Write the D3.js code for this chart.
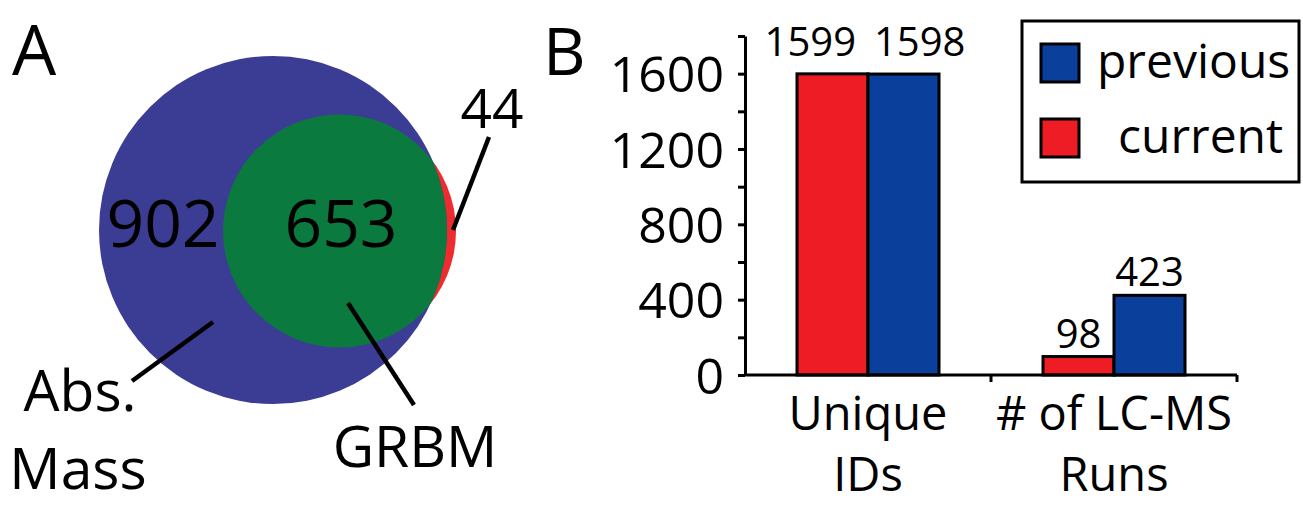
<!DOCTYPE html>
<html>
<head>
<meta charset="utf-8">
<script src="https://cdn.jsdelivr.net/npm/d3@7"></script>
<style>
  body { margin: 0; background: #fff; }
  text { font-family: "Open Sans", sans-serif; fill: #000; }
</style>
</head>
<body>
<div id="chart"></div>
<script>
// Venn counts (panel A)
const vennSets = ["Abs. Mass", "GRBM"];
const vennOnlyAbs = 902;
const vennBoth = 653;
const vennOnlyGrbm = 44;

// bar data (panel B)
const categories = [["Unique", "IDs"], ["# of LC-MS", "Runs"]];
const series = ["current", "previous"];
const currentValues = [1599, 98];
const previousValues = [1598, 423];
const yTicks = [0, 200, 400, 600, 800, 1000, 1200, 1400, 1600, 1800];
const yLabels = [0, 400, 800, 1200, 1600];

const width = 1303, height = 506;
const colors = {current: "#ee1c24", previous: "#0a3f9c"};

const svg = d3.select("#chart").append("svg").attr("width", width).attr("height", height);

// ---------- panel A ----------
svg.append("text").attr("x", 12).attr("y", 75).attr("font-size", 70).text("A");

// circle areas follow the set sizes
const rScale = d3.scaleSqrt().domain([0, vennOnlyAbs + vennBoth]).range([0, 174]);
const rAbs = rScale(vennOnlyAbs + vennBoth);
const rGrbm = rScale(vennBoth + vennOnlyGrbm);
const cy = 230;
const cxAbs = 99 + rAbs;
const cxGrbm = 456 - rGrbm;

const defs = svg.append("defs");
defs.append("clipPath").attr("id", "absClip")
  .append("circle").attr("cx", cxAbs).attr("cy", cy).attr("r", rAbs);

const venn = svg.append("g");
venn.append("circle").attr("cx", cxGrbm).attr("cy", cy + 1).attr("r", rGrbm).attr("fill", "#ee2b2e");
venn.append("circle").attr("cx", cxAbs).attr("cy", cy).attr("r", rAbs).attr("fill", "#3b3d94");
venn.append("circle").attr("cx", cxGrbm).attr("cy", cy + 1).attr("r", rGrbm)
  .attr("fill", "#0a7a3e").attr("clip-path", "url(#absClip)");

venn.append("text").attr("x", 163).attr("y", 247).attr("font-size", 66).attr("text-anchor", "middle").text(vennOnlyAbs);
venn.append("text").attr("x", 341).attr("y", 247).attr("font-size", 66).attr("text-anchor", "middle").text(vennBoth);
venn.append("text").attr("x", 492).attr("y", 128).attr("font-size", 55).attr("text-anchor", "middle").text(vennOnlyGrbm);

// pointer lines
const pointers = [
  [[489, 137], [453, 230]],
  [[213, 322], [132, 381]],
  [[348, 303], [414, 405]]
];
venn.selectAll("line.ptr").data(pointers).join("line")
  .attr("class", "ptr")
  .attr("x1", d => d[0][0]).attr("y1", d => d[0][1])
  .attr("x2", d => d[1][0]).attr("y2", d => d[1][1])
  .attr("stroke", "#000").attr("stroke-width", 4.5);

const absLbl = venn.append("text").attr("font-size", 57).attr("text-anchor", "middle");
absLbl.append("tspan").attr("x", 80).attr("y", 411).text("Abs.");
absLbl.append("tspan").attr("x", 78).attr("y", 489).text("Mass");
venn.append("text").attr("x", 415).attr("y", 467).attr("font-size", 57).attr("text-anchor", "middle").text(vennSets[1]);

// ---------- panel B ----------
svg.append("text").attr("x", 543).attr("y", 75).attr("font-size", 66).text("B");

const x0 = d3.scaleBand().domain(d3.range(categories.length)).range([745, 1237]);
const x1 = d3.scaleBand().domain(series).range([52, 194]);
const y = d3.scaleLinear().domain([0, 1800]).range([375, 36]);

// y axis
const yAxis = d3.axisLeft(y).tickValues(yTicks).tickSize(7).tickSizeOuter(0).tickPadding(14)
  .tickFormat(d => yLabels.includes(d) ? d : "");
const yG = svg.append("g").attr("transform", "translate(745,0)").call(yAxis);
yG.select(".domain").attr("stroke-width", 3);
yG.selectAll(".tick line").attr("stroke-width", 3);
yG.selectAll(".tick text").attr("font-size", 50).attr("font-family", "Open Sans").attr("dy", "0.36em");

// bars
const rows = categories.map((c, i) => ({i, current: currentValues[i], previous: previousValues[i]}));
const grp = svg.append("g").selectAll("g").data(rows).join("g")
  .attr("transform", d => `translate(${x0(d.i)},0)`);
grp.selectAll("rect").data(d => series.map(s => ({s, v: d[s]}))).join("rect")
  .attr("x", d => x1(d.s)).attr("y", d => y(d.v))
  .attr("width", x1.bandwidth()).attr("height", d => y(0) - y(d.v))
  .attr("fill", d => colors[d.s]).attr("stroke", "#000").attr("stroke-width", 3);
grp.each(function() {
  const labels = d3.select(this).selectAll("text").data(d => series.map(s => ({s, v: d[s]}))).join("text")
    .attr("x", d => x1(d.s) + x1.bandwidth() / 2).attr("y", d => y(d.v) - 9)
    .attr("text-anchor", "middle").attr("font-size", 40).text(d => d.v);
  // spread the two value labels apart if they would run into each other
  const nodes = labels.nodes();
  const w = nodes.map(n => n.getComputedTextLength());
  if ((w[0] + w[1]) / 2 + 4 > x1.step()) {
    const need = (w[0] + w[1]) / 2 + 18;
    const mid = x1.range()[0] + x1.step();
    d3.select(nodes[0]).attr("x", mid - need / 2 - 3).attr("y", y(nodes[0].__data__.v) - 18);
    d3.select(nodes[1]).attr("x", mid + need / 2 - 3).attr("y", y(nodes[1].__data__.v) - 18);
  }
});

// x axis
svg.append("line").attr("x1", 745).attr("x2", 1237).attr("y1", y(0)).attr("y2", y(0))
  .attr("stroke", "#000").attr("stroke-width", 3);
svg.selectAll("line.xtick").data([x0(1), x0.range()[1]]).join("line").attr("class", "xtick")
  .attr("x1", d => d).attr("x2", d => d).attr("y1", y(0)).attr("y2", y(0) + 7)
  .attr("stroke", "#000").attr("stroke-width", 3);
const xl = svg.append("g").selectAll("text").data(categories).join("text")
  .attr("text-anchor", "middle").attr("font-size", 47);
xl.each(function(lines, i) {
  lines.forEach((t, k) => {
    d3.select(this).append("tspan").attr("x", x0(i) + x0.bandwidth() / 2).attr("y", 430 + k * 61).text(t);
  });
});

// legend
const leg = svg.append("g");
leg.append("rect").attr("x", 1022).attr("y", 21).attr("width", 277).attr("height", 161)
  .attr("fill", "#fff").attr("stroke", "#000").attr("stroke-width", 3);
const legItems = ["previous", "current"];
leg.selectAll("rect.sw").data(legItems).join("rect").attr("class", "sw")
  .attr("x", 1041).attr("y", (d, i) => 44 + i * 75).attr("width", 38).attr("height", 38)
  .attr("fill", d => colors[d]).attr("stroke", "#000").attr("stroke-width", 3);
leg.selectAll("text").data(legItems).join("text")
  .attr("x", (d, i) => i === 0 ? 1097 : 1118).attr("y", (d, i) => 78 + i * 75)
  .attr("font-size", 48).text(d => d);
</script>
</body>
</html>
